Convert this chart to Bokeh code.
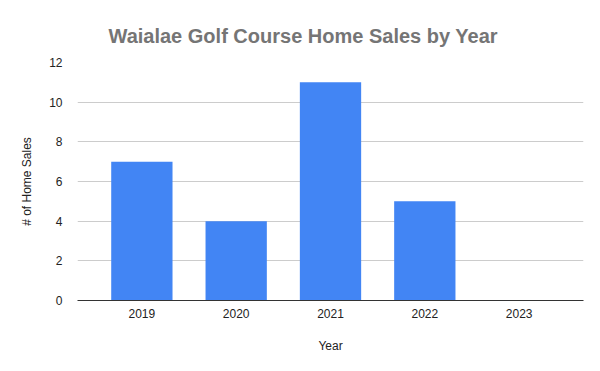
from bokeh.plotting import figure
from bokeh.models import FactorRange, Range1d, FixedTicker, Title
from bokeh.embed import file_html
from bokeh.resources import INLINE

years = ["2019", "2020", "2021", "2022", "2023"]
sales = [7, 4, 11, 5, 0]
y_ticks = [0, 2, 4, 6, 8, 10, 12]

FONT = "Liberation Sans"

p = figure(width=600, height=371, output_backend="svg", toolbar_location=None,
           x_range=FactorRange(*years, range_padding=0.073),
           y_range=Range1d(0, 12),
           min_border_left=77, min_border_right=17,
           min_border_top=62, min_border_bottom=71)
p.title = None
t = Title(text="Waialae Golf Course Home Sales by Year", align="left", offset=31,
          text_font=FONT, text_font_size="20px", text_font_style="bold",
          text_color="#757575", standoff=31)
p.add_layout(t, "above")

p.vbar(x=years, top=sales, width=0.65, color="#4285F4", line_color=None)

p.outline_line_color = None
p.background_fill_color = "white"
p.border_fill_color = "white"

p.xgrid.grid_line_color = None
p.ygrid.grid_line_color = "#cccccc"
p.ygrid.ticker = FixedTicker(ticks=y_ticks)

p.yaxis.ticker = FixedTicker(ticks=y_ticks)
p.yaxis.axis_line_color = None
p.yaxis.major_tick_line_color = None
p.yaxis.minor_tick_line_color = None
p.yaxis.major_label_text_font = FONT
p.yaxis.major_label_text_font_size = "12px"
p.yaxis.major_label_text_color = "#222222"
p.yaxis.major_label_standoff = 9
p.yaxis.axis_label = "# of Home Sales"
p.yaxis.axis_label_text_font = FONT
p.yaxis.axis_label_text_font_size = "12px"
p.yaxis.axis_label_text_font_style = "normal"
p.yaxis.axis_label_text_color = "#222222"
p.yaxis.axis_label_standoff = 12

p.xaxis.axis_line_color = "#333333"
p.xaxis.axis_line_width = 1
p.xaxis.major_tick_line_color = None
p.xaxis.minor_tick_line_color = None
p.xaxis.major_label_text_font = FONT
p.xaxis.major_label_text_font_size = "12px"
p.xaxis.major_label_text_color = "#222222"
p.xaxis.major_label_standoff = 2
p.xaxis.axis_label = "Year"
p.xaxis.axis_label_text_font = FONT
p.xaxis.axis_label_text_font_size = "12px"
p.xaxis.axis_label_text_font_style = "normal"
p.xaxis.axis_label_text_color = "#222222"
p.xaxis.axis_label_standoff = 18

open("out.html", "w").write(file_html(p, INLINE))
